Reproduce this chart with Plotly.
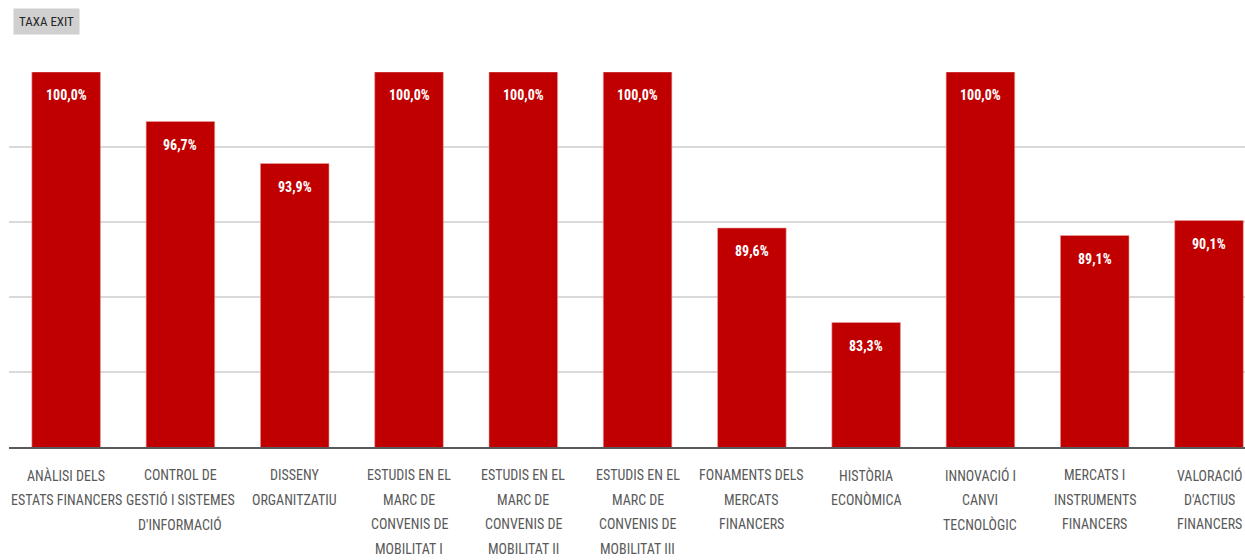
import plotly.graph_objects as go

categories = [
    "ANÀLISI DELS<br>ESTATS FINANCERS",
    "CONTROL DE<br>GESTIÓ I SISTEMES<br>D'INFORMACIÓ",
    "DISSENY<br>ORGANITZATIU",
    "ESTUDIS EN EL<br>MARC DE<br>CONVENIS DE<br>MOBILITAT I",
    "ESTUDIS EN EL<br>MARC DE<br>CONVENIS DE<br>MOBILITAT II",
    "ESTUDIS EN EL<br>MARC DE<br>CONVENIS DE<br>MOBILITAT III",
    "FONAMENTS DELS<br>MERCATS<br>FINANCERS",
    "HISTÒRIA<br>ECONÒMICA",
    "INNOVACIÓ I<br>CANVI<br>TECNOLÒGIC",
    "MERCATS I<br>INSTRUMENTS<br>FINANCERS",
    "VALORACIÓ<br>D'ACTIUS<br>FINANCERS",
]
values = [100.0, 96.7, 93.9, 100.0, 100.0, 100.0, 89.6, 83.3, 100.0, 89.1, 90.1]
series_name = "TAXA EXIT"

FONT = "Liberation Sans Narrow, Arial Narrow, Roboto Condensed, Roboto, sans-serif"
x_idx = list(range(len(categories)))

W, H = 1245, 560
ML, MR, MT, MB = 9, 0, 72, 113
plot_w = W - ML - MR
plot_h = H - MT - MB

fig = go.Figure()
fig.add_trace(go.Bar(
    x=x_idx, y=values, name=series_name,
    marker=dict(color="#C00000", line=dict(color="#E8A0A0", width=0.6)),
    width=0.6, showlegend=False, hoverinfo="skip",
))

# data labels
for i, v in zip(x_idx, values):
    fig.add_annotation(
        x=i, y=v, xref="x", yref="y", yanchor="top", yshift=-13,
        text=f"<b>{v:.1f}%</b>".replace(".", ","), showarrow=False,
        font=dict(family=FONT, size=14, color="white"),
    )

# category labels, one line at a time for Excel-like line spacing
for i, cat in zip(x_idx, categories):
    for k, line in enumerate(cat.split("<br>")):
        fig.add_annotation(
            x=i, y=0, xref="x", yref="paper", yanchor="middle",
            yshift=-(28 + k * 24.5), text=line, showarrow=False,
            font=dict(family=FONT, size=14, color="#595959"),
        )

# series name box
fig.add_annotation(
    x=(13 - ML) / plot_w, y=1 + (MT - 8) / plot_h, xref="paper", yref="paper",
    xanchor="left", yanchor="top", text=series_name, showarrow=False,
    bgcolor="#D0D0D0", borderpad=5,
    font=dict(family=FONT, size=13, color="#262626"),
)

fig.update_layout(
    width=W, height=H,
    margin=dict(l=ML, r=MR, t=MT, b=MB),
    paper_bgcolor="white", plot_bgcolor="white",
    separators=",.",
    xaxis=dict(
        range=[-0.5, 10.315], showticklabels=False,
        showline=True, linecolor="#595959", linewidth=2, showgrid=False,
        ticks="",
    ),
    yaxis=dict(
        range=[75, 100], dtick=5, showticklabels=False, showgrid=True,
        gridcolor="#D9D9D9", gridwidth=1.5, zeroline=False, showline=False,
    ),
)

fig.write_html(
    "out.html",
    config={"displayModeBar": False, "staticPlot": True},
    post_script="document.body.style.margin='0';document.body.style.overflow='hidden';",
)
